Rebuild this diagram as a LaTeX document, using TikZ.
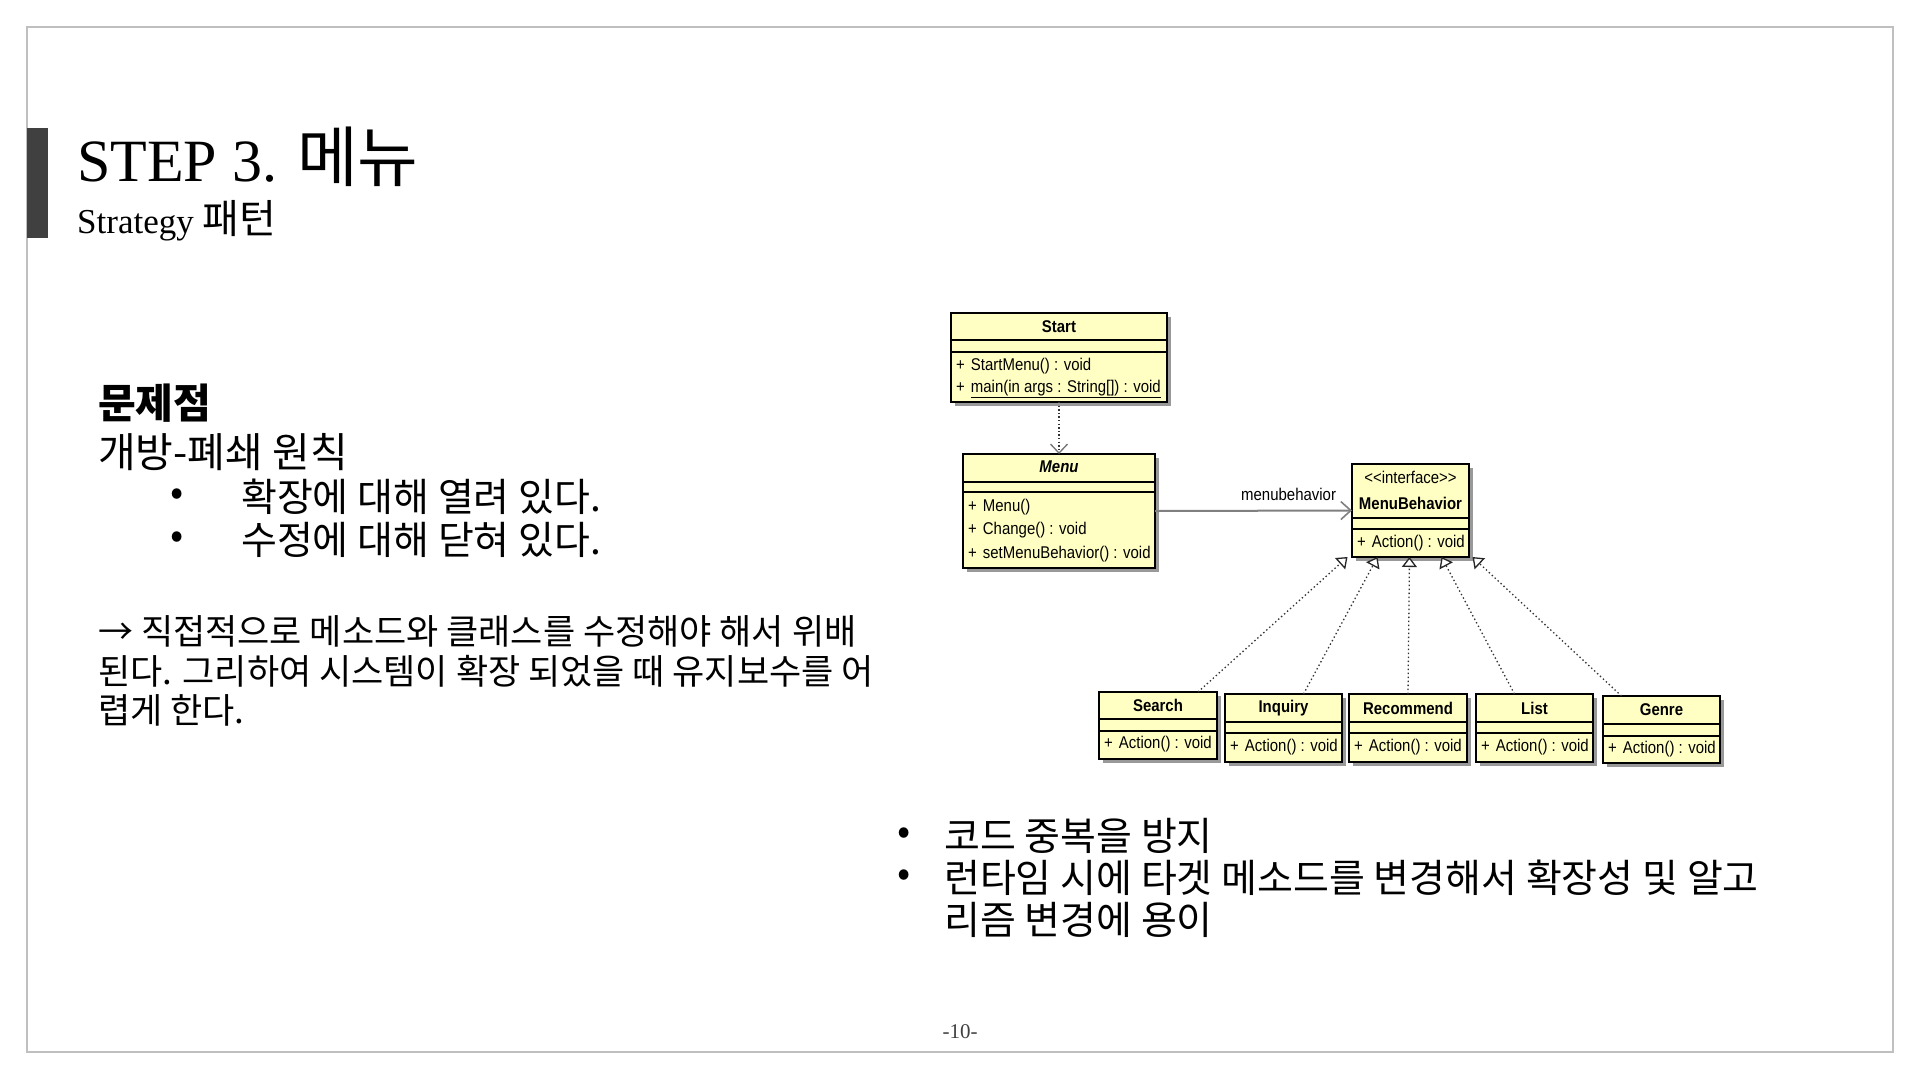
\documentclass[tikz,border=0pt]{standalone}
\usepackage{fontspec}
\setmainfont{Liberation Serif}
\newfontfamily\kr{Noto Sans CJK KR}
\newfontfamily\umlf[FakeStretch=0.88]{Liberation Sans}
\usetikzlibrary{arrows.meta,shadows,calc}
\definecolor{umlyellow}{HTML}{FFFFC4}
\definecolor{framegray}{HTML}{BFBFBF}
\definecolor{bardark}{HTML}{404040}
\tikzset{
  classbox/.style={draw=black, line width=1.4pt, fill=umlyellow, inner sep=0pt, outer sep=0pt,
    general shadow={fill=black!40, shadow xshift=3.5pt, shadow yshift=-3.5pt}},
  sepline/.style={black, line width=1.4pt},
  uml/.style={font=\umlf\fontsize{17}{19}\selectfont, inner sep=0pt, text=black},
  umlname/.style={font=\umlf\bfseries\fontsize{17}{19}\selectfont, inner sep=0pt},
  umlital/.style={font=\umlf\bfseries\itshape\fontsize{17}{19}\selectfont, inner sep=0pt},
  meth/.style={uml, anchor=west},
  dep/.style={black!80, line width=1.3pt, dash pattern=on 1.4pt off 2.2pt,
    -{Straight Barb[length=9pt,width=17pt,line width=1.3pt,color=black!55]}},
  assoc/.style={black!50, line width=2pt, -{Straight Barb[length=10pt,width=18pt,line width=1.6pt]}},
  real/.style={black!80, line width=1.3pt, dash pattern=on 1.4pt off 2.6pt,
    -{Triangle[length=10pt,width=15pt,fill=white,line width=1.3pt,color=black!85]}},
  krtext/.style={font=\kr\fontsize{39}{42}\selectfont, inner sep=0pt, anchor=west},
  krpara/.style={font=\kr\fontsize{35}{38}\selectfont, inner sep=0pt, anchor=west},
}
\newcommand\umlbox[5]{\node[classbox, minimum width={#4-#2}, minimum height={#5-#3}, anchor=north west] (#1) at (#2,#3) {};}
\begin{document}
\begin{tikzpicture}[x=1pt, y=-1pt]
\useasboundingbox (0,0) rectangle (1920,1080);
\fill[white] (0,0) rectangle (1920,1080);
% slide frame
\draw[framegray, line width=2.5pt] (27,27) rectangle (1893,1052);
\fill[bardark] (27,128) rectangle (48,238);
% title
\node[anchor=base west, inner sep=0pt, font=\fontsize{60}{66}\selectfont] (title) at (77,181) {STEP 3. {\kr\fontsize{66}{70}\selectfont 메뉴}};
\node[anchor=base west, inner sep=0pt, font=\fontsize{35}{40}\selectfont] (subtitle) at (77,233) {Strategy {\kr\fontsize{40}{44}\selectfont 패턴}};
% left text
\node[krtext, font=\kr\bfseries\fontsize{41}{44}\selectfont] (prob) at (98,403) {문제점};
\node[krtext, font=\kr\fontsize{41}{44}\selectfont] (ocp) at (98,452) {개방-폐쇄 원칙};
\node[krtext] (b1) at (170,497) {•};
\node[krtext] (l1) at (241,497) {확장에 대해 열려 있다.};
\node[krtext] (b2) at (170,540) {•};
\node[krtext] (l2) at (241,540) {수정에 대해 닫혀 있다.};
\node[krpara] (p1) at (98,631) {→ 직접적으로 메소드와 클래스를 수정해야 해서 위배};
\node[krpara] (p2) at (98,671) {된다. 그리하여 시스템이 확장 되었을 때 유지보수를 어};
\node[krpara] (p3) at (98,710) {렵게 한다.};
% right bullets
\node[krtext] (rb1) at (897,836) {•};
\node[krtext] (r1) at (944,836) {코드 중복을 방지};
\node[krtext] (rb2) at (897,878) {•};
\node[krtext] (r2) at (944,878) {런타임 시에 타겟 메소드를 변경해서 확장성 및 알고};
\node[krtext] (r3) at (944,920) {리즘 변경에 용이};
% page number
\node[inner sep=0pt, text=bardark, font=\fontsize{21}{24}\selectfont] (page) at (960,1032) {-10-};
% ===== UML =====
% Start
\umlbox{start}{951}{313}{1167}{402}
\draw[sepline] (951,340) -- (1167,340);
\draw[sepline] (951,352) -- (1167,352);
\node[umlname] (startn) at (1059,327) {Start};
\node[meth] (startm1) at (956,366) {+\hspace{6pt}StartMenu() : void};
\node[meth] (startm2) at (956,389) {+\hspace{6pt}\underline{main(in args : String[]) : void}};
% Menu
\umlbox{menu}{963}{454}{1155}{568}
\draw[sepline] (963,482) -- (1155,482);
\draw[sepline] (963,492) -- (1155,492);
\node[umlital] (menun) at (1059,467) {Menu};
\node[meth] (menum1) at (968,507) {+\hspace{6pt}Menu()};
\node[meth] (menum2) at (968,530) {+\hspace{6pt}Change() : void};
\node[meth] (menum3) at (968,554) {+\hspace{6pt}setMenuBehavior() : void};
% MenuBehavior
\umlbox{mb}{1352}{464}{1469}{557}
\draw[sepline] (1352,518) -- (1469,518);
\draw[sepline] (1352,529) -- (1469,529);
\node[uml] (mbs) at (1410.5,477) {<{}<interface>{}>};
\node[umlname] (mbn) at (1410.5,503) {MenuBehavior};
\node[meth] (mbm) at (1357,543) {+\hspace{6pt}Action() : void};
% Search
\umlbox{search}{1099}{692}{1217}{759}
\draw[sepline] (1099,719) -- (1217,719);
\draw[sepline] (1099,731) -- (1217,731);
\node[umlname] (searchn) at (1158,705) {Search};
\node[meth] (searchm) at (1104,744) {+\hspace{6pt}Action() : void};
% Inquiry
\umlbox{inquiry}{1225}{694}{1342}{762}
\draw[sepline] (1225,722) -- (1342,722);
\draw[sepline] (1225,733) -- (1342,733);
\node[umlname] (inquiryn) at (1283.5,708) {Inquiry};
\node[meth] (inquirym) at (1230,747) {+\hspace{6pt}Action() : void};
% Recommend
\umlbox{recommend}{1349}{694}{1467}{762}
\draw[sepline] (1349,722) -- (1467,722);
\draw[sepline] (1349,733) -- (1467,733);
\node[umlname] (recommendn) at (1408,708) {Recommend};
\node[meth] (recommendm) at (1354,747) {+\hspace{6pt}Action() : void};
% List
\umlbox{list}{1476}{694}{1593}{762}
\draw[sepline] (1476,722) -- (1593,722);
\draw[sepline] (1476,733) -- (1593,733);
\node[umlname] (listn) at (1534.5,708) {List};
\node[meth] (listm) at (1481,747) {+\hspace{6pt}Action() : void};
% Genre
\umlbox{genre}{1603}{696}{1720}{763}
\draw[sepline] (1603,724) -- (1720,724);
\draw[sepline] (1603,736) -- (1720,736);
\node[umlname] (genren) at (1661.5,710) {Genre};
\node[meth] (genrem) at (1608,749) {+\hspace{6pt}Action() : void};
% connectors
\draw[dep] (start.south) -- (menu.north);
\draw[assoc] (menu.east) -- (mb.west) node[pos=1, anchor=south east, xshift=-15pt, yshift=9pt, uml] (assoclbl) {menubehavior};
\coordinate (tS) at ([xshift=40pt]search.north);
\coordinate (tI) at ([xshift=20pt]inquiry.north);
\coordinate (tR) at (recommend.north);
\coordinate (tL) at ([xshift=-20pt]list.north);
\coordinate (tG) at ([xshift=-40pt]genre.north);
\coordinate (hS) at ([xshift=-63pt]mb.south);
\coordinate (hI) at ([xshift=-33pt]mb.south);
\coordinate (hR) at ([xshift=-1pt]mb.south);
\coordinate (hL) at ([xshift=31pt]mb.south);
\coordinate (hG) at ([xshift=62pt]mb.south);
\draw[real] (tS) -- (hS);
\draw[real] (tI) -- (hI);
\draw[real] (tR) -- (hR);
\draw[real] (tL) -- (hL);
\draw[real] (tG) -- (hG);
\end{tikzpicture}
\end{document}
